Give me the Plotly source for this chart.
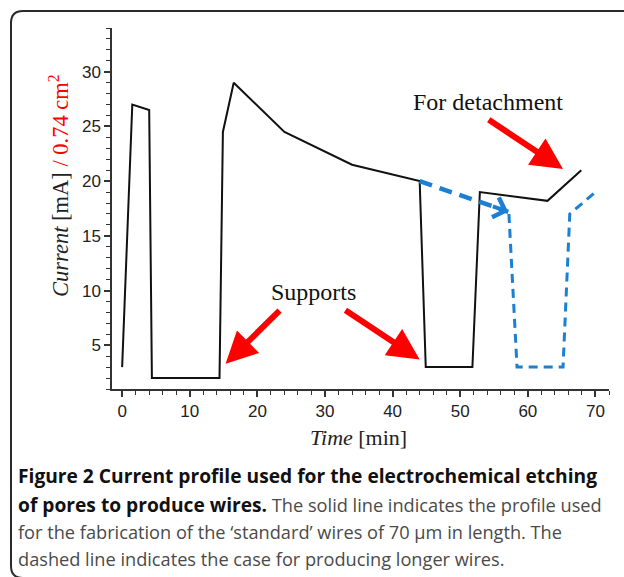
import plotly.graph_objects as go

# ---------------- data ----------------
solid_t = [0, 1.5, 4.0, 4.4, 14.4, 14.9, 16.5, 24.0, 34.0, 44.0, 44.9, 51.8, 52.9, 62.9, 67.9]
solid_i = [3, 27, 26.5, 2, 2, 24.5, 29, 24.5, 21.5, 20, 3, 3, 19, 18.2, 21]

dash_arrow_t = [44.0, 57.1]
dash_arrow_i = [20.0, 17.2]

dash_t = [57.2, 58.4, 65.2, 66.2, 70.0]
dash_i = [17.0, 3, 3, 17, 19]

# red arrows: (tail_t, tail_i, head_t, head_i)
red_arrows = [
    (23.5, 8.3, 15.3, 3.3),
    (32.8, 8.3, 44.0, 3.7),
    (54.0, 25.7, 65.2, 21.1),
]
labels = [("Supports", 28.3, 9.9), ("For detachment", 54.1, 27.2)]

x_range = [-1.5, 72.0]
y_range = [1.0, 34.0]

BOLD = "<span style='font-size:19.2px;color:#111111'><b>{}</b></span>"
caption_lines = [
    BOLD.format("Figure 2 Current profile used for the electrochemical etching"),
    BOLD.format("of pores to produce wires.") + " The solid line indicates the profile used",
    "for the fabrication of the \u2018standard\u2019 wires of 70 \u00b5m in length. The",
    "dashed line indicates the case for producing longer wires.",
]

# ---------------- layout geometry (pixels) ----------------
W, H = 624, 577
L, R, T, B = 112, 15, 28, 188
PW, PH = W - L - R, H - T - B

def px(x):
    return (x - L) / PW

def py(y):
    return 1 - (y - T) / PH

BLUE = "#1b7fd3"
RED = "#ff0000"
AX = "#333333"

fig = go.Figure()
fig.add_trace(go.Scatter(x=solid_t, y=solid_i, mode="lines",
                         line=dict(color="#111111", width=2), showlegend=False))
fig.add_trace(go.Scatter(x=dash_arrow_t, y=dash_arrow_i, mode="lines",
                         line=dict(color=BLUE, width=4.5, dash="13px,8px"),
                         showlegend=False))
fig.add_trace(go.Scatter(x=dash_t, y=dash_i, mode="lines",
                         line=dict(color=BLUE, width=3, dash="9px,6px"), showlegend=False))

ann = []
# blue arrowhead at the end of the thick dashed segment (short tail along the segment)
back = 2.5
slope = (dash_arrow_i[1] - dash_arrow_i[0]) / (dash_arrow_t[1] - dash_arrow_t[0])
ann.append(dict(x=dash_arrow_t[1], y=dash_arrow_i[1], xref="x", yref="y",
                ax=dash_arrow_t[1] - back, ay=dash_arrow_i[1] - slope * back,
                axref="x", ayref="y", text="", showarrow=True, arrowhead=4,
                arrowsize=1.0, arrowwidth=4, arrowcolor=BLUE))
for (tt, ti, ht, hi) in red_arrows:
    ann.append(dict(x=ht, y=hi, xref="x", yref="y", ax=tt, ay=ti, axref="x", ayref="y",
                    text="", showarrow=True, arrowhead=2, arrowsize=1.05, arrowwidth=6,
                    arrowcolor=RED))
for (txt, lt, li) in labels:
    ann.append(dict(x=lt, y=li, xref="x", yref="y", text=txt, showarrow=False,
                    xanchor="center", yanchor="middle",
                    font=dict(family="Liberation Serif", size=24, color="#111111")))

# axis titles
ann.append(dict(x=px(59), y=py(186), xref="paper", yref="paper", textangle=-90,
                xanchor="center", yanchor="middle",
                text="<i>Current</i> [mA] <span style='color:#ff0000'>/ 0.74 cm<sup>2</sup></span>",
                showarrow=False, font=dict(family="Liberation Serif", size=22.5, color="#222222")))
ann.append(dict(x=px(358), y=py(437), xref="paper", yref="paper",
                xanchor="center", yanchor="middle",
                text="<i>Time</i> [min]", showarrow=False,
                font=dict(family="Liberation Serif", size=22, color="#222222")))

# caption
cap_y = [476, 504, 532, 559]
for line, yy in zip(caption_lines, cap_y):
    ann.append(dict(x=px(16), y=py(yy), xref="paper", yref="paper", xanchor="left",
                    yanchor="middle", text=line, showarrow=False,
                    font=dict(family="Open Sans", size=18.2, color="#4a4a4a")))

# frame with rounded corners
x0, y0, x1, y1, r = 11, 11, 640, 578, 12
path = (f"M {px(x0)},{py(y0 + r)} Q {px(x0)},{py(y0)} {px(x0 + r)},{py(y0)} "
        f"L {px(x1 - r)},{py(y0)} Q {px(x1)},{py(y0)} {px(x1)},{py(y0 + r)} "
        f"L {px(x1)},{py(y1 - r)} Q {px(x1)},{py(y1)} {px(x1 - r)},{py(y1)} "
        f"L {px(x0 + r)},{py(y1)} Q {px(x0)},{py(y1)} {px(x0)},{py(y1 - r)} Z")

fig.update_layout(
    width=W, height=H,
    margin=dict(l=L, r=R, t=T, b=B, pad=0),
    paper_bgcolor="white", plot_bgcolor="white",
    annotations=ann,
    shapes=[dict(type="path", path=path, xref="paper", yref="paper",
                 line=dict(color="#2a2a2a", width=2), layer="below")],
    xaxis=dict(range=x_range, showgrid=False, zeroline=False, showline=True,
               linecolor=AX, linewidth=1.5, ticks="outside", ticklen=6, tickwidth=1.5,
               tickcolor=AX, tick0=0, dtick=10,
               minor=dict(dtick=2, tick0=0, ticks="outside", ticklen=4, tickwidth=1.2, tickcolor=AX),
               tickfont=dict(family="Liberation Sans", size=17, color="#222222")),
    yaxis=dict(range=y_range, showgrid=False, zeroline=False, showline=True,
               linecolor=AX, linewidth=1.5, ticks="outside", ticklen=6, tickwidth=1.5,
               tickcolor=AX, tick0=0, dtick=5,
               minor=dict(dtick=1, tick0=0, ticks="outside", ticklen=4, tickwidth=1.2, tickcolor=AX),
               tickfont=dict(family="Liberation Sans", size=17, color="#222222")),
)

fig.write_html("out.html")
